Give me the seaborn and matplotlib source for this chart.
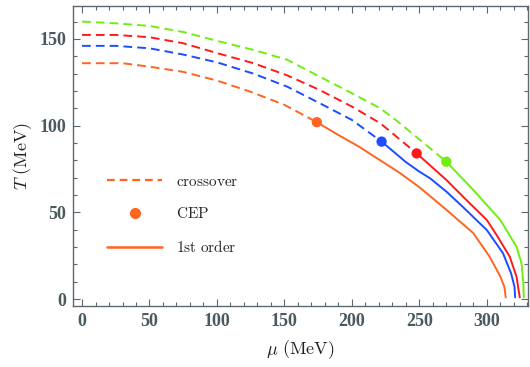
import pandas as pd
import seaborn as sns
import matplotlib.pyplot as plt
from matplotlib.lines import Line2D
from matplotlib.ticker import MultipleLocator

sns.set_theme(style="ticks")
plt.rcParams['mathtext.fontset'] = 'cm'
plt.rcParams['font.family'] = ['DejaVu Serif']

AXIS_GREY = '#5c6870'
LABEL_GREY = '#4b5960'

COLORS = ['#ff6420', '#1e4cff', '#ff1a1a', '#70ee10']

# crossover (dashed) branches, each ends at its CEP
orange_cross_mu = [0, 30, 50, 75, 100, 125, 150, 174]
orange_cross_T = [136, 136, 134, 131, 126, 119.5, 112, 102]
blue_cross_mu = [0, 25, 50, 75, 100, 127, 152, 176, 200, 222]
blue_cross_T = [146, 146, 144.6, 141, 136.5, 130, 122.5, 113, 103.3, 90.8]
red_cross_mu = [0, 25, 50, 75, 102, 127, 152, 176, 200, 221, 248]
red_cross_T = [152.3, 152.3, 151, 147.5, 141.4, 136, 129, 120.6, 111, 101.4, 84]
green_cross_mu = [0, 25, 50, 75, 102, 127, 152, 176, 200, 221, 233, 270]
green_cross_T = [160, 159, 157.5, 154, 148.5, 143.7, 138, 128.3, 118.7, 110, 103, 79.2]

# first order (solid) branches, each starts at its CEP
orange_first_mu = [174, 190, 205, 221, 235, 250, 270, 290, 302, 310, 313, 314]
orange_first_T = [102, 94.6, 88, 80, 73, 64.5, 51.5, 38, 24.5, 13, 7, 1]
blue_first_mu = [222, 240, 250, 258, 270, 282, 300, 312, 318, 320.5, 321]
blue_first_T = [90.8, 79, 73.5, 69.6, 62, 53.3, 39.8, 26.4, 14.8, 7.1, 1]
red_first_mu = [248, 270, 285, 300, 308, 317, 322, 324.4]
red_first_T = [84, 68.7, 57, 45.6, 36, 24.4, 12.9, 1]
green_first_mu = [270, 290, 310, 322, 325.7, 327, 327.4]
green_first_T = [79.2, 62.9, 45.6, 30.2, 20.6, 10, 1]

# critical end points
cep_mu = [174, 222, 248, 270]
cep_T = [102, 90.8, 84, 79.2]

cross = [(orange_cross_mu, orange_cross_T), (blue_cross_mu, blue_cross_T),
         (red_cross_mu, red_cross_T), (green_cross_mu, green_cross_T)]
first = [(orange_first_mu, orange_first_T), (blue_first_mu, blue_first_T),
         (red_first_mu, red_first_T), (green_first_mu, green_first_T)]

fig = plt.figure(figsize=(5.3, 3.67), dpi=100)
ax = fig.add_axes([0.1377, 0.1662, 0.8585, 0.8175])

for (mu, T), c in zip(cross, COLORS):
    sns.lineplot(x=mu, y=T, ax=ax, color=c, lw=1.4, sort=False, estimator=None)
    ax.lines[-1].set_dashes((4.5, 2.6))
for (mu, T), c in zip(first, COLORS):
    sns.lineplot(x=mu, y=T, ax=ax, color=c, lw=1.4, sort=False, estimator=None)
sns.scatterplot(x=cep_mu, y=cep_T, hue=list(range(4)), palette=COLORS, s=55,
                linewidth=0, ax=ax, legend=False, zorder=5)

ax.set_xlim(-6.7, 330.5)
ax.set_ylim(-4, 169)
ax.xaxis.set_major_locator(MultipleLocator(50))
ax.xaxis.set_minor_locator(MultipleLocator(10))
ax.yaxis.set_major_locator(MultipleLocator(50))
ax.yaxis.set_minor_locator(MultipleLocator(10))
ax.tick_params(which='both', direction='in', top=True, right=True, color=AXIS_GREY,
               labelcolor=LABEL_GREY, width=0.8)
ax.tick_params(which='major', length=5, pad=5)
ax.tick_params(which='minor', length=3)
for lab in ax.get_xticklabels() + ax.get_yticklabels():
    lab.set_family(['Liberation Serif'])
    lab.set_fontweight('bold')
    lab.set_fontsize(13)
for sp in ax.spines.values():
    sp.set_color(AXIS_GREY)
    sp.set_linewidth(1.0)

ax.set_xlabel(r'$\mu\ \mathrm{(MeV)}$', fontsize=13, color='#222222', labelpad=6)
ax.set_ylabel(r'$T\ \mathrm{(MeV)}$', fontsize=13, color='#222222', labelpad=4)

handles = [
    Line2D([], [], color=COLORS[0], lw=1.6, dashes=(3.5, 2.2)),
    Line2D([], [], color=COLORS[0], lw=0, marker='o', markersize=7),
    Line2D([], [], color=COLORS[0], lw=1.8),
]
labels = [r'$\mathrm{crossover}$', r'$\mathrm{CEP}$', r'$\mathrm{1st\ order}$']
ax.legend(handles, labels, loc='upper left', bbox_to_anchor=(0.045, 0.483),
          frameon=False, fontsize=11, handlelength=3.6, labelspacing=1.15,
          handletextpad=0.9)

plt.savefig('out.png', dpi=100)
